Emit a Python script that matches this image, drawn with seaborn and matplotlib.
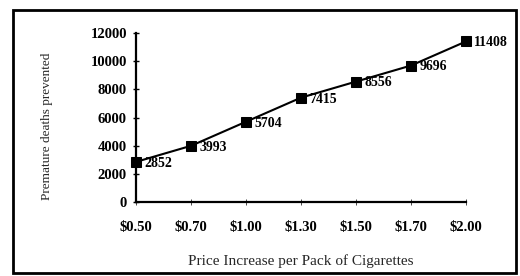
import matplotlib
matplotlib.use('Agg')
import matplotlib.pyplot as plt
import seaborn as sns
import pandas as pd
from matplotlib.patches import Rectangle

# Chart data
prices = ['$0.50', '$0.70', '$1.00', '$1.30', '$1.50', '$1.70', '$2.00']
deaths_prevented = [2852, 3993, 5704, 7415, 8556, 9696, 11408]
y_ticks = [0, 2000, 4000, 6000, 8000, 10000, 12000]

df = pd.DataFrame({'price': prices, 'deaths': deaths_prevented})
df['pos'] = range(len(df))

sns.set_theme(style='white')
plt.rcParams['font.family'] = ['Liberation Serif', 'DejaVu Serif']

fig = plt.figure(figsize=(5.2, 2.76), dpi=100)
ax = fig.add_axes([0.2615, 0.268, 0.6346, 0.612])

sns.lineplot(data=df, x='pos', y='deaths', ax=ax, color='black',
             linewidth=1.5, marker='s', markersize=7, clip_on=False,
             markerfacecolor='black', markeredgecolor='black', zorder=5)

# Data labels to the right of each point
for x, y in zip(df['pos'], df['deaths']):
    ax.annotate(str(y), (x, y), xytext=(6, -1), textcoords='offset points',
                fontsize=10, fontweight='bold', va='center', ha='left',
                color='black', annotation_clip=False)

ax.set_xlim(0, 6)
ax.set_ylim(0, 12000)
ax.set_xticks(df['pos'])
ax.set_xticklabels(prices, fontsize=10.5, fontweight='bold')
ax.set_yticks(y_ticks)
ax.set_yticklabels([str(t) for t in y_ticks], fontsize=10.5, fontweight='bold')
ax.tick_params(axis='y', direction='inout', length=5, width=1, pad=4,
               left=True, colors='black')
ax.tick_params(axis='x', direction='inout', length=4, width=0.5, pad=12,
               bottom=True, colors='black')

for side in ['top', 'right']:
    ax.spines[side].set_visible(False)
for side in ['left', 'bottom']:
    ax.spines[side].set_color('black')
    ax.spines[side].set_linewidth(1.6)

ax.set_xlabel('Price Increase per Pack of Cigarettes', fontsize=11)
ax.set_ylabel('Premature deaths prevented', fontsize=9.5)
ax.xaxis.set_label_coords(0.5, -0.31)
ax.yaxis.set_label_coords(-0.25, 0.45)
ax.patch.set_alpha(0)

# Outer frame around the figure
fig.patches.append(Rectangle((0.025, 0.01), 0.968, 0.953,
                             transform=fig.transFigure, fill=False,
                             edgecolor='black', linewidth=2))

fig.savefig('out.png', dpi=100)
